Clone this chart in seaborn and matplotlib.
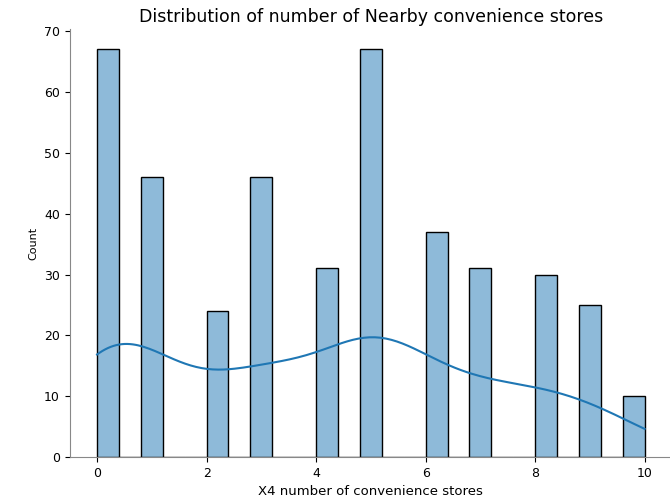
import numpy as np
import pandas as pd
import matplotlib
matplotlib.use("Agg")
import matplotlib.pyplot as plt
import seaborn as sns

# counts per number of convenience stores
stores = [0, 1, 2, 3, 4, 5, 6, 7, 8, 9, 10]
counts = [67, 46, 24, 46, 31, 67, 37, 31, 30, 25, 10]

df = pd.DataFrame({"X4 number of convenience stores": np.repeat(stores, counts)})

fig = plt.figure(figsize=(6.7, 4.97), dpi=100)
ax = fig.add_axes([0.104, 0.0805, 0.899, 0.861])
sns.histplot(data=df, x="X4 number of convenience stores", bins=25, kde=True, ax=ax)
ax.set_title("Distribution of number of Nearby convenience stores", fontsize=12.5, pad=5)
ax.xaxis.label.set_size(9.5)
ax.yaxis.label.set_size(8)
ax.tick_params(labelsize=9)
sns.despine(ax=ax)
for s in ["left", "bottom"]:
    ax.spines[s].set_color("#888888")

fig.savefig("out.png", dpi=100)
